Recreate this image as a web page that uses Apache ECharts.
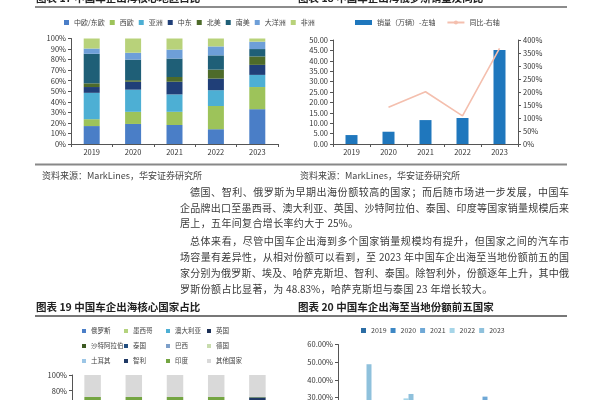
<!DOCTYPE html>
<html><head><meta charset="utf-8">
<script src="https://cdn.jsdelivr.net/npm/echarts@6/dist/echarts.min.js"></script>
<style>html,body{margin:0;padding:0;background:#fff}#c{width:600px;height:400px}</style>
</head><body><div id="c"></div>
<script>
const FONT = '"Noto Sans CJK SC", "Noto Sans", sans-serif';

// ---------- Chart 17: region share ----------
const years = ['2019', '2020', '2021', '2022', '2023'];
const regionNames = ['中欧/东欧', '西欧', '亚洲', '中东', '北美', '南美', '大洋洲', '非洲'];
const regEastEurope   = [17, 19, 18, 14, 33];
const regWestEurope   = [6.5, 11.5, 12.5, 22, 21];
const regAsia         = [25, 21, 16.5, 15, 11.5];
const regMiddleEast   = [5.5, 7.5, 12, 11, 9.5];
const regNorthAmerica = [3.5, 1.5, 4.5, 8.5, 8];
const regSouthAmerica = [28, 19.5, 17.5, 13.5, 7];
const regOceania      = [5, 6.5, 8.5, 8.5, 7];
const regAfrica       = [9.5, 13.5, 10.5, 7.5, 3];
const regionValues = [regEastEurope, regWestEurope, regAsia, regMiddleEast, regNorthAmerica, regSouthAmerica, regOceania, regAfrica];
const regionColors = ['#4a7ec7', '#9dc35a', '#4dafd4', '#203f78', '#4e6b2a', '#1f5f77', '#6e9fd8', '#b8d27a'];

// ---------- Chart 18: Russia sales & YoY ----------
const salesRussia = [4.3, 5.9, 11.5, 12.5, 45.2];
const yoyRussia = [null, 141, 201, 108, 368];
const salesName = '销量（万辆）-左轴';
const yoyName = '同比-右轴';

// ---------- Chart 19: core country share ----------
const countryNames = ['俄罗斯', '墨西哥', '澳大利亚', '英国', '沙特阿拉伯', '泰国', '巴西', '德国', '土耳其', '智利', '印度', '其他国家'];
const cRussia   = [10, 9, 8, 12, 21];
const cMexico   = [3, 5, 6, 8, 9];
const cAustralia= [2, 4, 5, 7, 6];
const cUK       = [1, 3, 6, 5, 5];
const cSaudi    = [4, 5, 6, 6, 5];
const cThailand = [3, 4, 5, 5, 6];
const cBrazil   = [4, 5, 4, 5, 4];
const cGermany  = [14, 9, 7, 3, 1];
const cTurkey   = [3, 2, 3, 4, 5];
const cChile    = [14, 10, 8, 7, 9.5];
const cIndia    = [14, 16, 14, 10, 0.5];
const cOthers   = [28, 28, 28, 28, 28];
const countryValues = [cRussia, cMexico, cAustralia, cUK, cSaudi, cThailand, cBrazil, cGermany, cTurkey, cChile, cIndia, cOthers];
const countryColors = ['#4a7ec7', '#b4d37e', '#4dafd4', '#1b2f55', '#3d5a22', '#234f80', '#7d9fc9', '#c8dcae', '#9cc6e6', '#1f3864', '#74a542', '#d9d9d9'];

// ---------- Chart 20: top-5 local share ----------
const topCountries = ['俄罗斯', '埃及', '哈萨克斯坦', '智利', '泰国'];
const share2019 = [5, 10, 3, 27, 2];
const share2020 = [8, 15, 5, 25, 3];
const share2021 = [12, 22, 8, 30.5, 5];
const share2022 = [19, 29.5, 12, 24, 12];
const share2023 = [48.83, 32, 27, 26, 22];
const shareValues = [share2019, share2020, share2021, share2022, share2023];
const shareColors = ['#2c6da4', '#3d87c4', '#6fa8d6', '#a6d5e8', '#8fc1dc'];

// ---------- Texts ----------
const title17 = '图表 17 中国车企出海核心地区占比';
const title18 = '图表 18 中国车企出海俄罗斯销量及同比';
const title19 = '图表 19 中国车企出海核心国家占比';
const title20 = '图表 20 中国车企出海至当地份额前五国家';
const sourceText = '资料来源：MarkLines，华安证券研究所';
const paragraphLines = [
  '德国、智利、俄罗斯为早期出海份额较高的国家；而后随市场进一步发展，中国车',
  '企品牌出口至墨西哥、澳大利亚、英国、沙特阿拉伯、泰国、印度等国家销量规模后来',
  '居上，五年间复合增长率约大于 25%。',
  '总体来看，尽管中国车企出海到多个国家销量规模均有提升，但国家之间的汽车市',
  '场容量有差异性，从相对份额可以看到，至 2023 年中国车企出海至当地份额前五的国',
  '家分别为俄罗斯、埃及、哈萨克斯坦、智利、泰国。除智利外，份额逐年上升，其中俄',
  '罗斯份额占比显著，为 48.83%，哈萨克斯坦与泰国 23 年增长较大。'
];
const paraLayout = [
  {x: 190, y: 192, j: true}, {x: 180, y: 208, j: true}, {x: 180, y: 223, j: false},
  {x: 190, y: 241, j: true}, {x: 180, y: 257, j: true}, {x: 180, y: 273, j: true},
  {x: 180, y: 289, j: false}
];

const ctx = document.createElement('canvas').getContext('2d');
const PFS = 10;
const pFont = PFS + 'px ' + FONT;
function paraEls() {
  const els = [];
  paragraphLines.forEach((t, li) => {
    const L = paraLayout[li];
    ctx.font = pFont;
    const toks = t.match(/[A-Za-z0-9.%]+|\s|./g);
    const ws = toks.map(k => ctx.measureText(k).width);
    const total = ws.reduce((a, b) => a + b, 0);
    const gap = L.j ? (569 - L.x - total) / (toks.length - 1) : 0.35;
    let x = L.x;
    toks.forEach((k, i) => {
      if (k.trim()) els.push({type: 'text', x: x, y: L.y, silent: true,
        style: {text: k, font: pFont, fill: '#3a3a3a', textVerticalAlign: 'middle', verticalAlign: 'middle'}});
      x += ws[i] + gap;
    });
  });
  return els;
}
function txt(t, x, y, size, bold, color) {
  const f = (bold ? 'bold ' : '') + size + 'px ' + FONT;
  return {type: 'text', x: x, y: y, silent: true,
    style: {text: t, font: f, fill: color || '#222', textVerticalAlign: 'middle', verticalAlign: 'middle'}};
}
function hline(y, x1, x2, color, w) {
  return {type: 'line', silent: true, shape: {x1: x1, y1: y, x2: x2, y2: y}, style: {stroke: color, lineWidth: w}};
}

const axisLbl = {fontSize: 7.5, color: '#333', fontFamily: FONT};
const axLine = {show: true, lineStyle: {color: '#555', width: 1}};
const axTick = {show: true, length: 3, lineStyle: {color: '#555'}};

const series = [];
regionNames.forEach((n, i) => series.push({
  name: n, type: 'bar', stack: 'reg', xAxisIndex: 0, yAxisIndex: 0, barWidth: 16,
  itemStyle: {color: regionColors[i]}, data: regionValues[i]
}));
series.push({name: salesName, type: 'bar', xAxisIndex: 1, yAxisIndex: 1, barWidth: 12,
  itemStyle: {color: '#1f77bd'}, data: salesRussia});
series.push({name: yoyName, type: 'line', xAxisIndex: 1, yAxisIndex: 2, symbol: 'none',
  lineStyle: {color: '#f4bfae', width: 1.6}, itemStyle: {color: '#f4bfae'}, data: yoyRussia});
countryNames.forEach((n, i) => series.push({
  name: n, type: 'bar', stack: 'cty', xAxisIndex: 2, yAxisIndex: 3, barWidth: 16.5,
  itemStyle: {color: countryColors[i]}, data: countryValues[i]
}));
years.forEach((y, i) => series.push({
  name: y, type: 'bar', xAxisIndex: 3, yAxisIndex: 4, barWidth: 5, barGap: '0%',
  itemStyle: {color: shareColors[i]}, data: shareValues[i]
}));

const legTxt = {fontSize: 7, color: '#444', fontFamily: FONT, lineHeight: 9};
const legTxtSmall = {fontSize: 6.5, color: '#444', fontFamily: FONT, lineHeight: 9};
const cols = [[0, 4, 8], [1, 5, 9], [2, 6, 10], [3, 7, 11]];
const colX = [82, 124, 166, 207];
const legends = [
  {left: 64, top: 18, itemWidth: 5, itemHeight: 5, itemGap: 5, padding: 0, icon: 'rect',
   textStyle: legTxt, data: regionNames, selectedMode: false},
  {left: 355, top: 18, itemWidth: 17, itemHeight: 5, itemGap: 11, padding: 0,
   textStyle: legTxt, selectedMode: false,
   data: [{name: salesName, icon: 'rect'}, {name: yoyName}]},
  {left: 361, top: 326, itemWidth: 5, itemHeight: 5, itemGap: 4, padding: 0, icon: 'rect',
   textStyle: legTxt, data: years, selectedMode: false}
];
cols.forEach((c, k) => legends.push({
  left: colX[k], top: 326.5, orient: 'vertical', itemWidth: 4, itemHeight: 4, itemGap: 6, padding: 0,
  icon: 'rect', textStyle: legTxtSmall, selectedMode: false, data: c.map(i => countryNames[i])
}));

const option = {
  animation: false,
  backgroundColor: '#fff',
  legend: legends,
  grid: [
    {left: 71, top: 38.5, width: 207, height: 105.5, containLabel: false, outerBoundsMode: 'none'},
    {left: 333, top: 40, width: 185, height: 104, containLabel: false, outerBoundsMode: 'none'},
    {left: 72, top: 375, width: 206, height: 78.5, containLabel: false, outerBoundsMode: 'none'},
    {left: 338, top: 344.5, width: 210, height: 106, containLabel: false, outerBoundsMode: 'none'}
  ],
  xAxis: [
    {type: 'category', gridIndex: 0, data: years, axisLine: axLine, axisTick: axTick, axisLabel: Object.assign({margin: 4}, axisLbl)},
    {type: 'category', gridIndex: 1, data: years, axisLine: axLine, axisTick: axTick, axisLabel: Object.assign({margin: 4}, axisLbl)},
    {type: 'category', gridIndex: 2, data: years, axisLine: axLine, axisTick: axTick, axisLabel: Object.assign({margin: 4}, axisLbl)},
    {type: 'category', gridIndex: 3, data: topCountries, axisLine: axLine, axisTick: axTick, axisLabel: Object.assign({margin: 4}, axisLbl)}
  ],
  yAxis: [
    {type: 'value', gridIndex: 0, min: 0, max: 100, interval: 10, splitLine: {show: false},
     axisLine: axLine, axisTick: axTick, axisLabel: Object.assign({margin: 5, formatter: '{value}%'}, axisLbl)},
    {type: 'value', gridIndex: 1, min: 0, max: 50, interval: 5, splitLine: {show: false},
     axisLine: axLine, axisTick: axTick, axisLabel: Object.assign({margin: 5, formatter: v => v.toFixed(2)}, axisLbl)},
    {type: 'value', gridIndex: 1, position: 'right', min: 0, max: 400, interval: 50, splitLine: {show: false},
     axisLine: axLine, axisTick: axTick, axisLabel: Object.assign({margin: 5, formatter: '{value}%'}, axisLbl)},
    {type: 'value', gridIndex: 2, min: 0, max: 100, interval: 20, splitLine: {show: false},
     axisLine: axLine, axisTick: axTick, axisLabel: Object.assign({margin: 5, formatter: '{value}%'}, axisLbl)},
    {type: 'value', gridIndex: 3, min: 0, max: 60, interval: 10, splitLine: {show: false},
     axisLine: axLine, axisTick: axTick, axisLabel: Object.assign({margin: 5, formatter: v => v.toFixed(2) + '%'}, axisLbl)}
  ],
  series: series,
  graphic: [
    txt(title17, 36, -1.5, 10.5, true, '#222'),
    txt(title18, 298, -1.5, 10.5, true, '#222'),
    hline(7, 35, 567, '#666', 1.5),
    hline(164.5, 35, 567, '#888', 2),
    txt(sourceText, 42, 175.5, 9, false, '#444'),
    txt(sourceText, 300, 175.5, 9, false, '#444'),
    txt(title19, 36, 307, 10.5, true, '#222'),
    txt(title20, 298, 307, 10.5, true, '#222'),
    hline(316, 35, 567, '#777', 2)
  ].concat(paraEls())
};

const chart = echarts.init(document.getElementById('c'), null, {renderer: 'canvas'});
chart.setOption(option);
</script>
</body></html>
